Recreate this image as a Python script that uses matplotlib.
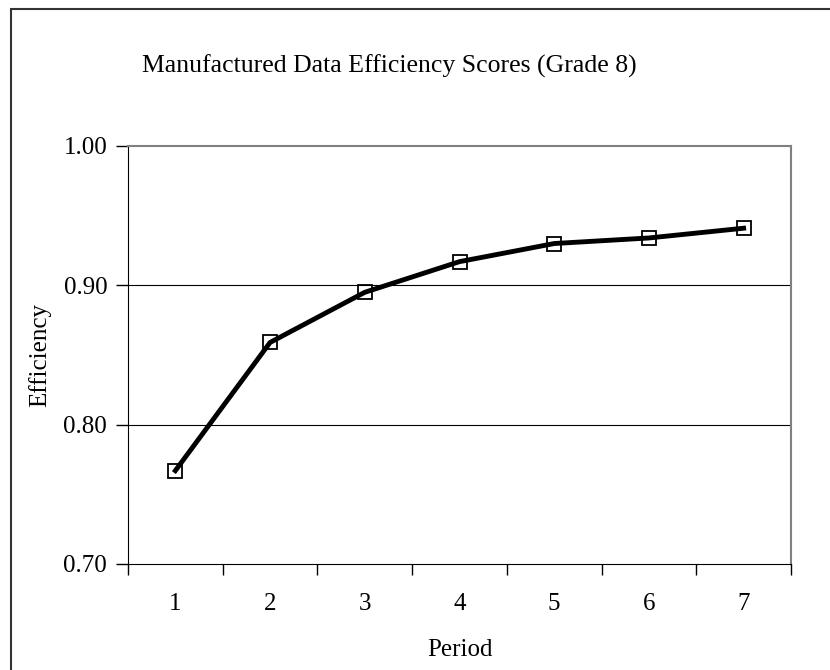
import matplotlib.pyplot as plt
from matplotlib.patches import Rectangle

# Donnees
periods = [1, 2, 3, 4, 5, 6, 7]
efficiency = [0.767, 0.859, 0.895, 0.917, 0.930, 0.934, 0.941]
y_ticks = [0.70, 0.80, 0.90, 1.00]

plt.rcParams['font.family'] = ['Liberation Serif', 'DejaVu Serif']

fig = plt.figure(figsize=(8.3, 6.7), dpi=100)
W, H = 830, 670
ax = fig.add_axes([128 / W, 1 - 564 / H, (791 - 128) / W, (564 - 146) / H])

# cadre exterieur
fig.patches.append(Rectangle((11 / W, -0.01), 1.0, 1 - 9 / H + 0.01, transform=fig.transFigure,
                             fill=False, edgecolor='#333333', linewidth=1.5))

ax.plot(periods, efficiency, color='black', linewidth=3.5, zorder=3)
ax.plot(periods, efficiency, linestyle='none', marker='s', markersize=10,
        markerfacecolor='none', markeredgecolor='black', markeredgewidth=1.3, zorder=4)

ax.set_xlim(0.5, 7.5)
ax.set_ylim(0.70, 1.00)
ax.set_yticks(y_ticks)
ax.set_yticklabels(['%.2f' % v for v in y_ticks])
ax.set_xticks([p - 0.5 for p in periods] + [7.5])
ax.set_xticklabels([])
ax.set_xticks(periods, minor=True)
ax.set_xticklabels([str(p) for p in periods], minor=True)
ax.tick_params(axis='x', which='minor', length=0, pad=21, labelsize=18)
ax.tick_params(axis='x', which='major', length=8, width=1, direction='out')
ax.tick_params(axis='y', length=9, width=1, direction='out', pad=6, labelsize=18)

for v in [0.80, 0.90]:
    ax.axhline(v, color='black', linewidth=0.8, zorder=1)

ax.spines['top'].set_color('#808080')
ax.spines['right'].set_color('#808080')
ax.spines['top'].set_linewidth(1.5)
ax.spines['right'].set_linewidth(1.5)

ax.set_xlabel('Period', fontsize=18, labelpad=17)
ax.set_ylabel('Efficiency', fontsize=18, labelpad=9)
fig.text(389 / W, 1 - 66 / H, 'Manufactured Data Efficiency Scores (Grade 8)',
         ha='center', va='center', fontsize=18.5)

fig.savefig('out.png', dpi=100)
